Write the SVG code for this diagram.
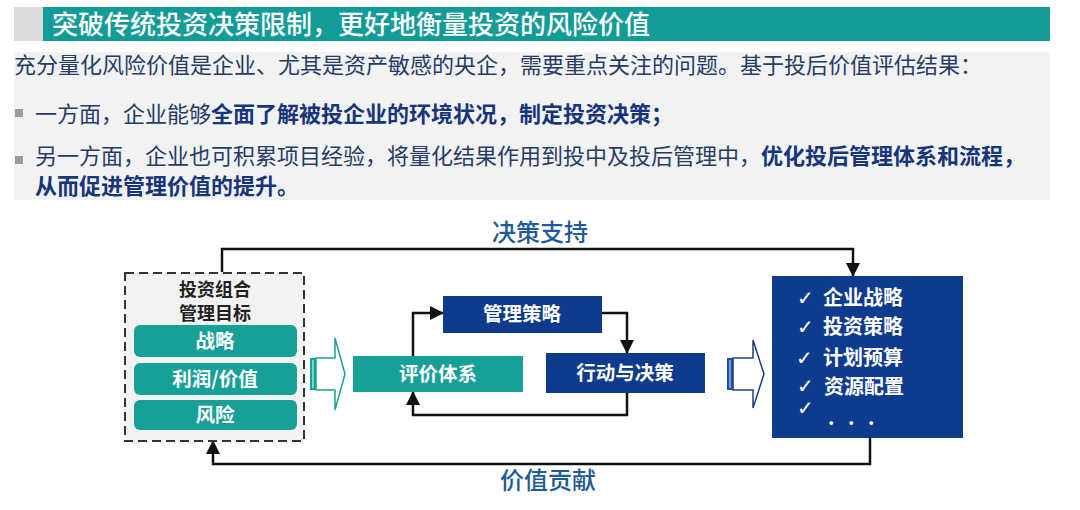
<svg xmlns="http://www.w3.org/2000/svg" width="1080" height="510" viewBox="0 0 1080 510">
<style>
text{font-family:"Noto Sans CJK SC","Noto Sans",sans-serif}
.body{font-size:22px;fill:#263c66}
.b{font-weight:700;fill:#16357a}
.lbl{font-size:24px;fill:#1f5a9a;font-weight:500;text-anchor:middle}
.wt{fill:#fff;font-weight:700;font-size:19.5px;text-anchor:middle}
.teal{fill:#17a098}
.navy{fill:#0f3b8f}
.conn{fill:none;stroke:#111;stroke-width:2.5}
.chk{font-family:"DejaVu Sans",sans-serif;fill:#fff;font-size:20px}
.item{fill:#fff;font-weight:700;font-size:20px}
.gl{font-size:18px;font-weight:700;fill:#222;text-anchor:middle}
</style>
<defs>
<marker id="ah" markerUnits="userSpaceOnUse" markerWidth="14" markerHeight="14" refX="13" refY="7" orient="auto">
<path d="M0,0 L14,7 L0,14 Z" fill="#111"/>
</marker>
</defs>
<rect width="1080" height="510" fill="#fff"/>
<g id="header">
<rect x="14" y="7" width="29" height="34" fill="#dcdcdc"/>
<rect x="43" y="7" width="1007" height="34" fill="#139c97"/>
<text x="52" y="34" font-size="26" font-weight="500" fill="#fff">突破传统投资决策限制，更好地衡量投资的风险价值</text>
</g>
<g id="intro">
<rect x="14" y="52" width="1036" height="148" fill="#f2f2f2"/>
<text x="14" y="73" class="body" font-size="21.9">充分量化风险价值是企业、尤其是资产敏感的央企，需要重点关注的问题。基于投后价值评估结果：</text>
<rect x="15" y="109" width="8" height="8" fill="#9a9a9a"/>
<text x="35" y="122" class="body">一方面，企业能够<tspan class="b">全面了解被投企业的环境状况，制定投资决策；</tspan></text>
<rect x="15" y="156" width="8" height="8" fill="#9a9a9a"/>
<text x="35" y="164" class="body">另一方面，企业也可积累项目经验，将量化结果作用到投中及投后管理中，<tspan class="b">优化投后管理体系和流程，</tspan></text>
<text x="35" y="194" class="body b">从而促进管理价值的提升。</text>
</g>
<g id="connectors">
<path class="conn" d="M222,272 V249 H853 V276" marker-end="url(#ah)"/>
<path class="conn" d="M413,356 V313 H443" marker-end="url(#ah)"/>
<path class="conn" d="M602,313 H627 V353" marker-end="url(#ah)"/>
<path class="conn" d="M627,393 V415 H413 V392" marker-end="url(#ah)"/>
<path class="conn" d="M870,438 V464 H213 V441" marker-end="url(#ah)"/>
<text x="540" y="241" class="lbl">决策支持</text>
<text x="548" y="489" class="lbl">价值贡献</text>
</g>
<g id="goals">
<rect x="125" y="273" width="179" height="168" fill="#f2f2f2" stroke="#333" stroke-width="2" stroke-dasharray="9 5"/>
<text x="215" y="296" class="gl">投资组合</text>
<text x="215" y="320" class="gl">管理目标</text>
<rect x="134" y="325" width="163" height="32" rx="6" class="teal"/>
<text x="215" y="348" class="wt">战略</text>
<rect x="134" y="363" width="163" height="32" rx="6" class="teal"/>
<text x="215" y="386" class="wt">利润/价值</text>
<rect x="134" y="400" width="163" height="30" rx="6" class="teal"/>
<text x="215" y="422" class="wt">风险</text>
</g>
<g id="arrow1">
<rect x="310" y="358" width="6" height="32" fill="#17a098"/>
<rect x="312" y="360" width="2" height="28" fill="#7fd0cb"/>
<path d="M316,358 H335 V338 L345,374 L335,410 V390 H316 Z" fill="#fff" stroke="#17a098" stroke-width="1.5"/>
</g>
<g id="eval">
<rect x="353" y="356" width="170" height="36" class="teal"/>
<text x="438" y="381" class="wt">评价体系</text>
</g>
<g id="strategy">
<rect x="443" y="296" width="159" height="37" class="navy"/>
<text x="522" y="321" class="wt">管理策略</text>
</g>
<g id="action">
<rect x="546" y="353" width="159" height="40" class="navy"/>
<text x="625" y="380" class="wt">行动与决策</text>
</g>
<g id="arrow2">
<rect x="727" y="358" width="6" height="32" fill="#1f4f9f"/>
<rect x="729" y="360" width="2" height="28" fill="#6f9fe0"/>
<path d="M733,358 H753 V340 L764,374 L753,408 V390 H733 Z" fill="#fff" stroke="#1f3f7f" stroke-width="1.5"/>
</g>
<g id="outcomes">
<rect x="772" y="276" width="191" height="162" class="navy"/>
<text x="797" y="305" class="chk">✓</text>
<text x="823" y="305" class="item">企业战略</text>
<text x="797" y="334" class="chk">✓</text>
<text x="823" y="334" class="item">投资策略</text>
<text x="796" y="365" class="chk">✓</text>
<text x="823" y="365" class="item">计划预算</text>
<text x="797" y="393" class="chk">✓</text>
<text x="824" y="394" class="item">资源配置</text>
<text x="797" y="415" class="chk">✓</text>
<text x="828 848 868" y="425" class="item" font-size="15">...</text>
</g>
</svg>
